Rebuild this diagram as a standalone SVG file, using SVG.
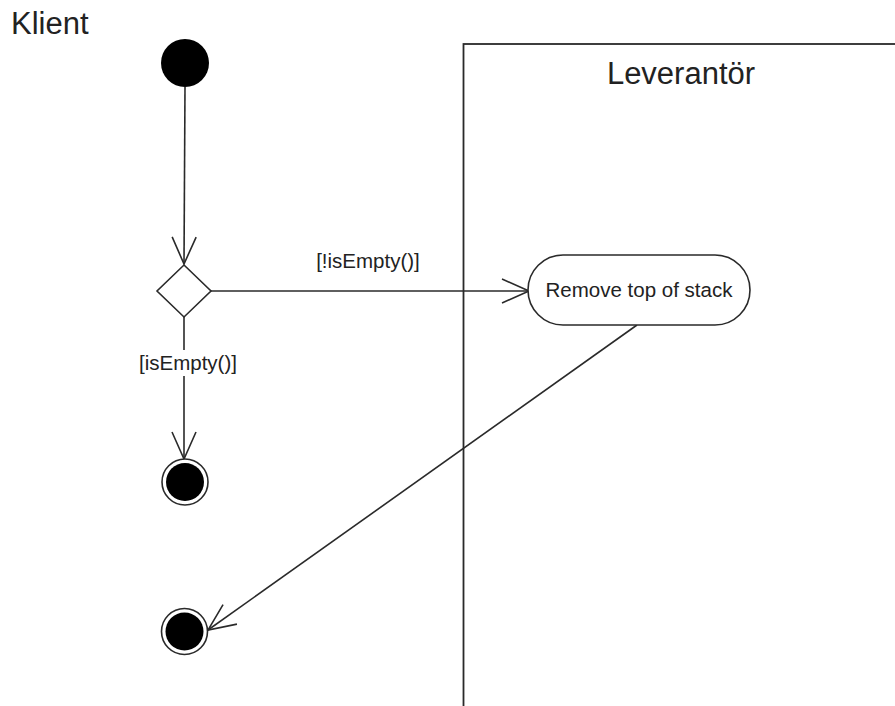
<svg xmlns="http://www.w3.org/2000/svg" width="895" height="706" viewBox="0 0 895 706">
  <style>
    .line { fill: none; stroke: #2a2a2a; stroke-width: 1.6; }
    .label { font-family: "Liberation Sans", Arial, sans-serif; fill: #222; }
    .guard { font-size: 20.5px; }
    .title { font-size: 31px; }
  </style>
  <defs>
    <marker id="open-arrow" markerUnits="userSpaceOnUse" viewBox="-30 -15 32 30" markerWidth="32" markerHeight="30" refX="0" refY="0" orient="auto" overflow="visible">
      <path d="M -27 -12 L 0 0 L -27 12" fill="none" stroke="#2a2a2a" stroke-width="1.6"/>
    </marker>
  </defs>

  <rect width="895" height="706" fill="#ffffff"/>

  <!-- Swimlane titles and partition -->
  <g id="lane-klient">
    <text class="label title" x="11" y="34">Klient</text>
  </g>
  <g id="lane-leverantor">
    <rect x="463.5" y="44" width="470" height="700" fill="none" stroke="#2a2a2a" stroke-width="1.8"/>
    <text class="label title" x="681" y="84" text-anchor="middle">Leverantör</text>
  </g>

  <!-- Connectors -->
  <g id="connectors">
    <line class="line" x1="185" y1="87" x2="184" y2="264" marker-end="url(#open-arrow)"/>
    <line class="line" x1="211" y1="291" x2="529" y2="291" marker-end="url(#open-arrow)"/>
    <line class="line" x1="184" y1="317" x2="184" y2="459" marker-end="url(#open-arrow)"/>
    <line class="line" x1="637" y1="325" x2="208" y2="630" marker-end="url(#open-arrow)"/>
    <rect x="136" y="350" width="104" height="26" fill="#ffffff"/>
    <text class="label guard" x="188" y="370" text-anchor="middle">[isEmpty()]</text>
    <text class="label guard" x="368" y="268" text-anchor="middle">[!isEmpty()]</text>
  </g>

  <!-- Nodes -->
  <g id="start">
    <circle cx="185" cy="63" r="24" fill="#000"/>
  </g>
  <g id="decision">
    <polygon points="184,265 211,291 184,317 157,291" fill="#ffffff" stroke="#2a2a2a" stroke-width="1.6"/>
  </g>
  <g id="remove-top">
    <rect x="528" y="255" width="222" height="70" rx="35" ry="35" fill="#ffffff" stroke="#2a2a2a" stroke-width="1.6"/>
    <text class="label" x="639" y="297" font-size="20.5" text-anchor="middle">Remove top of stack</text>
  </g>
  <g id="end-empty">
    <circle cx="185" cy="482" r="23" fill="#ffffff" stroke="#2a2a2a" stroke-width="1.6"/>
    <circle cx="185" cy="482" r="19" fill="#000"/>
  </g>
  <g id="end-removed">
    <circle cx="184.5" cy="631.5" r="23" fill="#ffffff" stroke="#2a2a2a" stroke-width="1.6"/>
    <circle cx="184.5" cy="631.5" r="19" fill="#000"/>
  </g>
</svg>
